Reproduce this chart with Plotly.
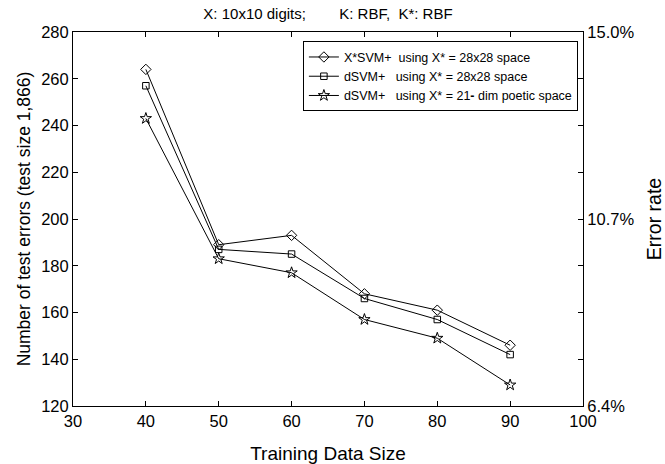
import plotly.graph_objects as go

train_size = [40, 50, 60, 70, 80, 90]
xsvm_28 = [264, 189, 193, 168, 161, 146]
dsvm_28 = [257, 187, 185, 166, 157, 142]
dsvm_poetic = [243, 183, 177, 157, 149, 129]

names = ["X*SVM+\u00a0\u00a0using X* = 28x28 space",
         "dSVM+\u00a0\u00a0\u00a0using X* = 28x28 space",
         "dSVM+\u00a0\u00a0\u00a0using X* = 21<b>-</b> dim poetic space"]
symbols = ["diamond-open", "square-open", "star-open"]
msizes = [8, 6.5, 8.5]

left_ticks = [120, 140, 160, 180, 200, 220, 240, 260, 280]
right_text = ["6.4%", "", "", "", "10.7%", "", "", "", "15.0%"]
x_ticks = [30, 40, 50, 60, 70, 80, 90, 100]

FONT = "Arial, Liberation Sans, sans-serif"

fig = go.Figure()
for ys, nm, sym, ms in zip([xsvm_28, dsvm_28, dsvm_poetic], names, symbols, msizes):
    fig.add_trace(go.Scatter(
        x=train_size, y=ys, name=nm, mode="lines+markers",
        line=dict(color="black", width=1),
        marker=dict(symbol=sym, size=ms, color="black", line=dict(color="black", width=1)),
    ))
# invisible trace to anchor the right axis
fig.add_trace(go.Scatter(x=[30, 100], y=[120, 280], yaxis="y2", mode="markers",
                         marker=dict(opacity=0), showlegend=False, hoverinfo="skip"))

axis_common = dict(showgrid=False, zeroline=False, showline=True, linecolor="black",
                   linewidth=1, ticks="inside", ticklen=5, tickcolor="black", automargin=False,
                   tickfont=dict(family=FONT, size=16.5, color="black"))

fig.update_layout(
    width=665, height=464,
    margin=dict(l=73, r=82, t=32, b=58),
    paper_bgcolor="white", plot_bgcolor="white",
    font=dict(family=FONT, color="black"),
    title=dict(text="X: 10x10 digits;" + "\u00a0" * 8 + "K: RBF,\u00a0\u00a0K*: RBF",
               x=0.5, xref="paper", xanchor="center", y=0.97, yanchor="middle",
               font=dict(family=FONT, size=15, color="black")),
    xaxis=dict(range=[30, 100], tickvals=x_ticks, mirror="ticks",
               title=dict(text="Training Data Size", font=dict(family=FONT, size=19), standoff=18),
               **axis_common),
    yaxis=dict(range=[120, 280], tickvals=left_ticks, mirror="ticks",
               title=dict(text="Number of test errors (test size 1,866)", font=dict(family=FONT, size=17.5), standoff=6),
               **axis_common),
    yaxis2=dict(range=[120, 280], tickvals=left_ticks, ticktext=right_text, overlaying="y",
                side="right", anchor="x",
                title=dict(text="Error rate", font=dict(family=FONT, size=19.5), standoff=19),
                **axis_common),
    legend=dict(x=0.99, y=0.975, xanchor="right", yanchor="top",
                bgcolor="white", bordercolor="black", borderwidth=1,
                font=dict(family=FONT, size=12.5, color="black"),
                tracegroupgap=0, itemsizing="trace"),
    showlegend=True,
)

fig.write_html("out.html")
